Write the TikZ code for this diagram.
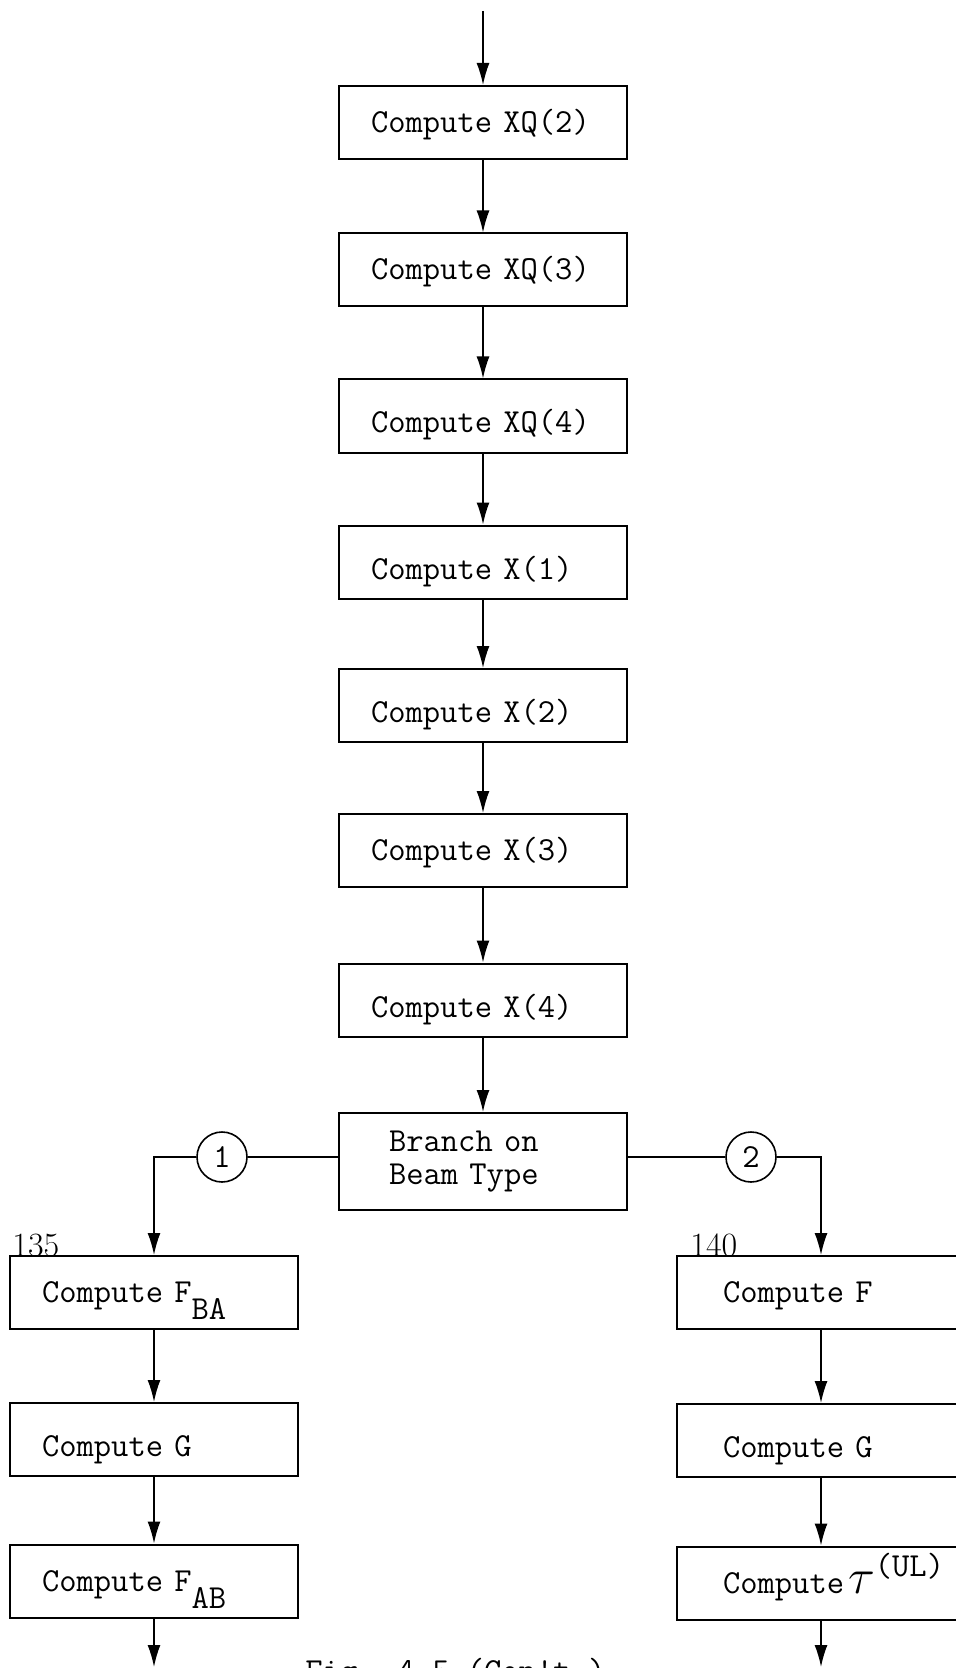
\documentclass[tikz,border=0pt]{standalone}
\usepackage{fontspec}
\usetikzlibrary{arrows.meta, positioning}

\newcommand\tx{\ttfamily\fontsize{16.8}{16.8}\selectfont}

\begin{document}
\begin{tikzpicture}[
    x=0.5pt, y=-0.5pt,
    line/.style={line width=0.8pt},
    arr/.style={line, -{Latex[length=11pt, width=6.5pt]}},
    box/.style={draw, line width=1pt, minimum height=36.5pt, text width=112pt, inner xsep=16pt, align=left, text height=10pt, text depth=0pt, font=\tx},
    low/.style={text height=17pt},
    rbox/.style={box, inner xsep=23pt, text width=98pt},
    branchbox/.style={draw, line width=1pt, minimum height=48.5pt, text width=94pt, inner xsep=25pt, align=left, font=\tx},
    conn/.style={circle, draw, line width=0.8pt, minimum size=25pt, inner sep=0pt, font=\tx},
    num/.style={font=\rmfamily\fontsize{17}{17}\selectfont, inner sep=0pt, anchor=base west}
  ]
  \useasboundingbox (0,0) rectangle (956,1668);

  \coordinate (start) at (483,11);
  \node[box] (xq2) at (483,122.5) {Compute~XQ(2)};
  \node[box] (xq3) at (483,270) {Compute~XQ(3)};
  \node[box, low] (xq4) at (483,416) {Compute~XQ(4)};
  \node[box, low] (x1) at (483,562) {Compute X(1)};
  \node[box, low] (x2) at (483,705.5) {Compute X(2)};
  \node[box] (x3) at (483,850.5) {Compute X(3)};
  \node[box, low] (x4) at (483,1000) {Compute X(4)};
  \node[branchbox] (branch) at (483,1161.5) {Branch on\\Beam Type};

  \node[conn] (c1) at (222,1157) {1};
  \node[conn] (c2) at (751,1157) {2};

  % type 1
  \node[num] (n135) at (12,1256) {135};
  \node[box] (fba) at (154,1292.5) {Compute F\raisebox{-8.5pt}{BA}};
  \node[box, low] (gl) at (154,1439.5) {Compute G};
  \node[box] (fab) at (154,1581) {Compute F\raisebox{-8.5pt}{AB}};
  \coordinate (endl) at (154,1667);

  % type 2
  \node[num] (n140) at (690,1256) {140};
  \node[rbox] (f) at (821,1292.5) {Compute F};
  \node[rbox, low] (gr) at (821,1440.5) {Compute G};
  \node[rbox] (tau) at (821,1583) {Compute\kern2pt{\fontsize{24}{24}\selectfont$\tau$}\raisebox{8.5pt}{(UL)}};
  \coordinate (endr) at (821,1667);

  \node[font=\tx, anchor=base west, inner sep=0pt] (caption) at (305,1681) {Fig. 4-5 (Con't.)};

  \draw[arr] (start) -- (xq2);
  \foreach \a/\b in {xq2/xq3, xq3/xq4, xq4/x1, x1/x2, x2/x3, x3/x4, x4/branch}
    \draw[arr] (\a) -- (\b);

  \draw[line] (branch.west |- c1) -- (c1.east);
  \draw[arr] (c1.west) -| (fba.north);
  \draw[line] (branch.east |- c2) -- (c2.west);
  \draw[arr] (c2.east) -| (f.north);

  \draw[arr] (fba) -- (gl);
  \draw[arr] (gl) -- (fab);
  \draw[arr] (fab) -- (endl);
  \draw[arr] (f) -- (gr);
  \draw[arr] (gr) -- (tau);
  \draw[arr] (tau) -- (endr);
\end{tikzpicture}
\end{document}
